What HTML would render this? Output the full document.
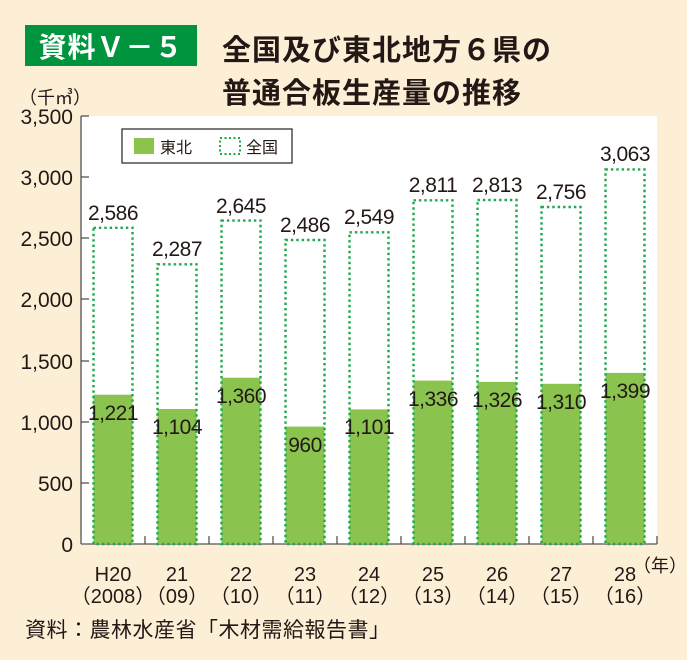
<!DOCTYPE html>
<html><head><meta charset="utf-8"><style>
html,body{margin:0;padding:0;background:#fdefd6;}
svg{display:block;}
text{font-family:"Liberation Sans","Noto Sans CJK JP",sans-serif;}
</style></head><body>
<svg width="687" height="660" viewBox="0 0 687 660" xmlns="http://www.w3.org/2000/svg">
<rect x="0" y="0" width="687" height="660" fill="#fdefd6"/>
<rect x="25" y="25" width="172" height="41" fill="#00943e"/>
<text x="111" y="57" font-size="28" fill="#fff" text-anchor="middle" font-weight="bold" letter-spacing="1">資料Ｖ－５</text>
<text x="222" y="60" font-size="29" font-weight="bold" fill="#231815" letter-spacing="1">全国及び東北地方６県の</text>
<text x="222" y="103" font-size="29" font-weight="bold" fill="#231815" letter-spacing="1">普通合板生産量の推移</text>
<rect x="82" y="116" width="575" height="428" fill="#fff"/>
<g stroke="#555" stroke-width="1.3" fill="none">
<line x1="81" y1="116" x2="81" y2="544"/>
<line x1="81" y1="544" x2="657" y2="544"/>
</g>
<g font-size="21" fill="#231815" text-anchor="end">
<text x="19" y="104" text-anchor="start" font-size="18">（千㎥）</text>
<text x="73" y="124">3,500</text><text x="73" y="185">3,000</text><text x="73" y="246">2,500</text><text x="73" y="307">2,000</text><text x="73" y="369">1,500</text><text x="73" y="430">1,000</text><text x="73" y="491">500</text><text x="73" y="552">0</text>
</g>
<g stroke="#555" stroke-width="1.3">
<line x1="81" y1="116" x2="89" y2="116"/><line x1="81" y1="177" x2="89" y2="177"/><line x1="81" y1="238" x2="89" y2="238"/><line x1="81" y1="299" x2="89" y2="299"/><line x1="81" y1="361" x2="89" y2="361"/><line x1="81" y1="422" x2="89" y2="422"/><line x1="81" y1="483" x2="89" y2="483"/>
<line x1="145" y1="536" x2="145" y2="544"/><line x1="209" y1="536" x2="209" y2="544"/><line x1="273" y1="536" x2="273" y2="544"/><line x1="337" y1="536" x2="337" y2="544"/><line x1="401" y1="536" x2="401" y2="544"/><line x1="465" y1="536" x2="465" y2="544"/><line x1="529" y1="536" x2="529" y2="544"/><line x1="593" y1="536" x2="593" y2="544"/><line x1="657" y1="536" x2="657" y2="544"/>
</g>
<g fill="#8bc34f">
<rect x="93.5" y="394.7" width="39" height="149.3"/>
<rect x="157.5" y="409" width="39" height="135"/>
<rect x="221.5" y="377.7" width="39" height="166.3"/>
<rect x="285.5" y="426.6" width="39" height="117.4"/>
<rect x="349.5" y="409.4" width="39" height="134.6"/>
<rect x="413.5" y="380.6" width="39" height="163.4"/>
<rect x="477.5" y="381.9" width="39" height="162.1"/>
<rect x="541.5" y="383.8" width="39" height="160.2"/>
<rect x="605.5" y="372.9" width="39" height="171.1"/>
</g>
<g fill="none" stroke="#1aa84a" stroke-width="2.4" stroke-dasharray="2.4 3">
<rect x="93.5" y="227.8" width="39" height="316.2"/>
<rect x="157.5" y="264.3" width="39" height="279.7"/>
<rect x="221.5" y="220.6" width="39" height="323.4"/>
<rect x="285.5" y="240" width="39" height="304"/>
<rect x="349.5" y="232.3" width="39" height="311.7"/>
<rect x="413.5" y="200.3" width="39" height="343.7"/>
<rect x="477.5" y="200" width="39" height="344"/>
<rect x="541.5" y="207" width="39" height="337"/>
<rect x="605.5" y="169.4" width="39" height="374.6"/>
</g>
<g font-size="21" fill="#231815" text-anchor="middle" letter-spacing="-0.5">
<text x="113" y="220">2,586</text><text x="177" y="256">2,287</text><text x="241" y="213">2,645</text><text x="305" y="232">2,486</text><text x="369" y="224">2,549</text><text x="433" y="192">2,811</text><text x="497" y="192">2,813</text><text x="561" y="199">2,756</text><text x="625" y="161">3,063</text>
<text x="113" y="420">1,221</text><text x="177" y="434">1,104</text><text x="241" y="403">1,360</text><text x="305" y="452">960</text><text x="369" y="434">1,101</text><text x="433" y="406">1,336</text><text x="497" y="407">1,326</text><text x="561" y="409">1,310</text><text x="625" y="398">1,399</text>
</g>
<rect x="122" y="129" width="170" height="34" fill="#fff" stroke="#333" stroke-width="1.3"/>
<rect x="134" y="138" width="20" height="16" fill="#8bc34f"/>
<text x="160" y="153" font-size="16" fill="#231815">東北</text>
<rect x="220" y="138" width="20" height="16" fill="none" stroke="#1aa84a" stroke-width="2" stroke-dasharray="2 2.5"/>
<text x="246" y="153" font-size="16" fill="#231815">全国</text>
<g font-size="20" fill="#231815" text-anchor="middle">
<text x="113" y="581">H20</text><text x="113" y="603">（2008）</text>
<text x="177" y="581">21</text><text x="177" y="603">（09）</text>
<text x="241" y="581">22</text><text x="241" y="603">（10）</text>
<text x="305" y="581">23</text><text x="305" y="603">（11）</text>
<text x="369" y="581">24</text><text x="369" y="603">（12）</text>
<text x="433" y="581">25</text><text x="433" y="603">（13）</text>
<text x="497" y="581">26</text><text x="497" y="603">（14）</text>
<text x="561" y="581">27</text><text x="561" y="603">（15）</text>
<text x="625" y="581">28</text><text x="625" y="603">（16）</text>
<text x="660" y="572" text-anchor="middle" font-size="18">（年）</text>
</g>
<text x="25" y="637" font-size="21" fill="#231815" letter-spacing="0.5">資料：農林水産省「木材需給報告書」</text>
</svg>
</body></html>
